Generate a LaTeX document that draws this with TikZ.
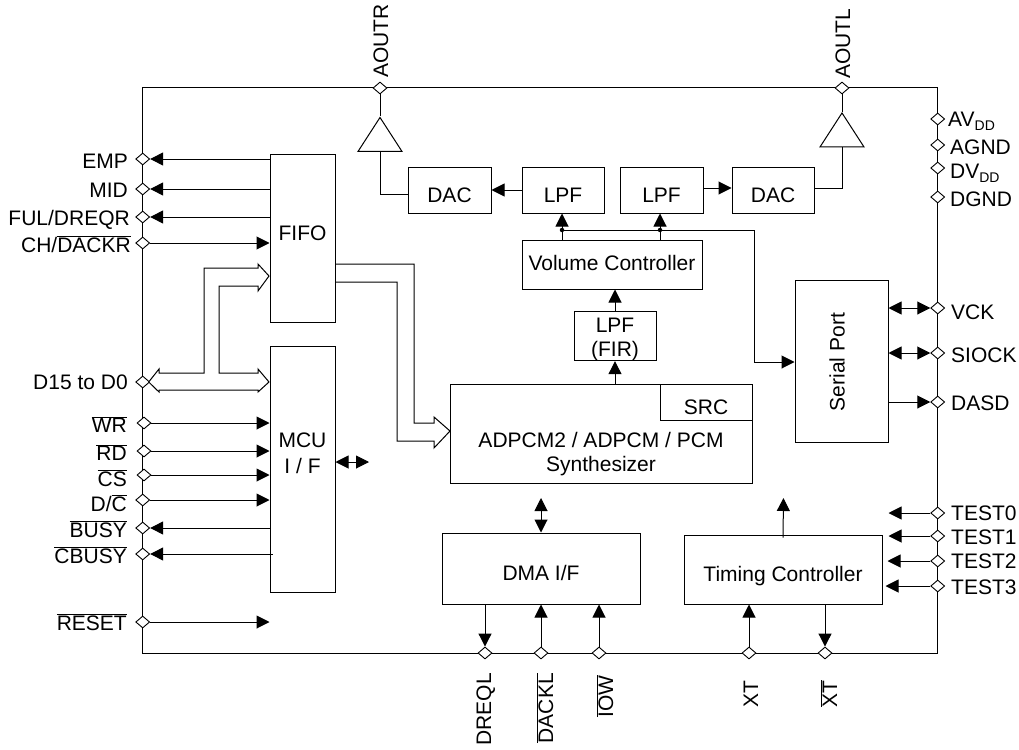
\documentclass[tikz,border=0pt]{standalone}
\usepackage{fontspec}
\setmainfont{Liberation Sans}
\usetikzlibrary{arrows.meta,shapes.geometric}
\newcommand{\barred}[1]{\ensuremath{\overline{\mbox{#1}}}}
\newcommand{\subdd}{\raisebox{-4pt}{\fontsize{14}{14}\selectfont DD}}
\tikzset{
  every node/.style={font=\fontsize{21}{24}\selectfont, inner sep=0pt},
  blockbox/.style={draw, line width=1pt, rectangle},
  lowtext/.style={text height=24pt, text depth=0pt},
  pinmark/.style={draw, fill=white, line width=0.9pt, diamond, aspect=1.2, minimum width=14pt, minimum height=12pt},
  ampbox/.style={draw, line width=1pt, isosceles triangle, isosceles triangle stretches, shape border rotate=90, minimum width=44pt, minimum height=34pt},
  leftlabel/.style={anchor=base east},
  rightlabel/.style={anchor=base west},
  upstart/.style={rotate=90, anchor=base west},
  upend/.style={rotate=90, anchor=base east},
  wire/.style={line width=1pt},
  sigline/.style={wire, -{Triangle[length=13pt,width=13pt]}},
  sigboth/.style={wire, {Triangle[length=13pt,width=13pt]}-{Triangle[length=13pt,width=13pt]}},
  busline/.style={line width=1pt, fill=white, line join=miter}
}
\begin{document}
\begin{tikzpicture}[x=1pt,y=-1pt]
  \useasboundingbox (0,0) rectangle (1019,749);

  % Chip outline
  \node[blockbox, minimum width=795pt, minimum height=565pt] (chip) at (540.3,370.5) {};

  % Blocks
  \node[blockbox, minimum width=65pt, minimum height=168pt, text height=15pt, text depth=11pt] (fifo) at (302.5,238) {FIFO};
  \node[blockbox, minimum width=65pt, minimum height=246pt] (mcu) at (302.5,469) {};
  \node[align=center] (mcutext) at (302.5,453) {MCU\\[2pt]I / F};
  \node[blockbox, lowtext, minimum width=83pt, minimum height=46pt] (dacL) at (449.5,190) {DAC};
  \node[blockbox, lowtext, minimum width=82pt, minimum height=46pt] (lpfL) at (563,190) {LPF};
  \node[blockbox, lowtext, minimum width=83pt, minimum height=46pt] (lpfR) at (661.5,190) {LPF};
  \node[blockbox, lowtext, minimum width=82pt, minimum height=46pt] (dacR) at (773,190) {DAC};
  \node[blockbox, text height=14pt, text depth=2pt, minimum width=180pt, minimum height=49pt] (volume) at (612,264.5) {Volume Controller};
  \node[blockbox, align=center, minimum width=82pt, minimum height=48pt] (lpfFir) at (615,336) {\rule{0pt}{21pt}LPF\\(FIR)};
  \node[blockbox, minimum width=302pt, minimum height=99pt] (synth) at (601,433.5) {};
  \node[align=center] (synthtext) at (601,454) {ADPCM2 / ADPCM / PCM\\Synthesizer};
  \node[blockbox, lowtext, minimum width=92pt, minimum height=36pt] (src) at (706,402) {SRC};
  \node[blockbox, minimum width=93pt, minimum height=162pt] (serial) at (841.5,361) {};
  \node[rotate=90] (serialtext) at (837,362) {Serial Port};
  \node[blockbox, lowtext, minimum width=198pt, minimum height=71pt] (dma) at (541,568.5) {DMA I/F};
  \node[blockbox, lowtext, minimum width=198pt, minimum height=69pt] (timing) at (783,569.5) {Timing Controller};

  % Output amplifiers
  \node[ampbox] (ampL) at (380,139.5) {};
  \node[ampbox] (ampR) at (842,135) {};

  % Pins
  \node[pinmark] (aoutr) at (380,88) {};
  \node[pinmark] (aoutl) at (842,88) {};
  \node[pinmark] (emp) at (142.7,159) {};
  \node[pinmark] (mid) at (142.7,189) {};
  \node[pinmark] (ful) at (142.7,217) {};
  \node[pinmark] (ch) at (142.7,243) {};
  \node[pinmark] (data) at (142.7,382) {};
  \node[pinmark] (wr) at (144,423) {};
  \node[pinmark] (rd) at (144,451) {};
  \node[pinmark] (cs) at (144,475) {};
  \node[pinmark] (dc) at (142.7,500) {};
  \node[pinmark] (busy) at (142.7,528) {};
  \node[pinmark] (cbusy) at (142.7,554) {};
  \node[pinmark] (reset) at (142.7,622) {};
  \node[pinmark] (avdd) at (937.7,119) {};
  \node[pinmark] (agnd) at (937.7,145) {};
  \node[pinmark] (dvdd) at (937.7,168) {};
  \node[pinmark] (dgnd) at (937.7,197) {};
  \node[pinmark] (vck) at (937.7,308) {};
  \node[pinmark] (siock) at (937.7,353) {};
  \node[pinmark] (dasd) at (937.7,402) {};
  \node[pinmark] (test0) at (937.7,513) {};
  \node[pinmark] (test1) at (937.7,536) {};
  \node[pinmark] (test2) at (937.7,561) {};
  \node[pinmark] (test3) at (937.7,586) {};
  \node[pinmark] (dreql) at (485,653) {};
  \node[pinmark] (dackl) at (541,653) {};
  \node[pinmark] (iow) at (599,653) {};
  \node[pinmark] (xt) at (749,653) {};
  \node[pinmark] (xtbar) at (825,653) {};

  % Pin labels
  \node[upstart] (aoutrlabel) at (388,78) {AOUTR};
  \node[upstart] (aoutllabel) at (850,79) {AOUTL};
  \node[leftlabel] (emplabel) at (128,168) {EMP};
  \node[leftlabel] (midlabel) at (128,197) {MID};
  \node[leftlabel] (fullabel) at (130,225) {FUL/DREQR};
  \node[leftlabel] (chlabel) at (131,252.7) {CH/\barred{DACKR}};
  \node[leftlabel] (datalabel) at (128,389) {D15 to D0};
  \node[leftlabel] (wrlabel) at (127,432.7) {\barred{WR}};
  \node[leftlabel] (rdlabel) at (127,460.7) {\barred{RD}};
  \node[leftlabel] (cslabel) at (127,486.7) {\barred{CS}};
  \node[leftlabel] (dclabel) at (127,511) {D/\barred{C}};
  \node[leftlabel] (busylabel) at (127,537) {\barred{BUSY}};
  \node[leftlabel] (cbusylabel) at (127,563.7) {\barred{CBUSY}};
  \node[leftlabel] (resetlabel) at (127,630) {\barred{RESET}};
  \node[rightlabel] (avddlabel) at (948,126) {AV\subdd};
  \node[rightlabel] (agndlabel) at (950,154) {AGND};
  \node[rightlabel] (dvddlabel) at (950,178) {DV\subdd};
  \node[rightlabel] (dgndlabel) at (950,206) {DGND};
  \node[rightlabel] (vcklabel) at (951,319) {VCK};
  \node[rightlabel] (siocklabel) at (951,362.7) {SIOCK};
  \node[rightlabel] (dasdlabel) at (951,410.7) {DASD};
  \node[rightlabel] (test0label) at (951,520.7) {TEST0};
  \node[rightlabel] (test1label) at (951,544) {TEST1};
  \node[rightlabel] (test2label) at (951,568) {TEST2};
  \node[rightlabel] (test3label) at (951,594) {TEST3};
  \node[upend] (dreqllabel) at (491,673) {DREQL};
  \node[upend] (dackllabel) at (553,673) {\barred{DACKL}};
  \node[upend] (iowlabel) at (613,675) {\barred{IOW}};
  \node[upend] (xtlabel) at (758,680) {XT};
  \node[upend] (xtbarlabel) at (837,680) {\barred{XT}};

  % Analog output path
  \draw[wire] (aoutr) -- (ampL.apex);
  \draw[wire] (aoutl) -- (ampR.apex);
  \draw[wire] (ampL.lower side) |- ([yshift=-4pt]dacL.west);
  \draw[wire] (ampR.lower side) |- ([yshift=2pt]dacR.east);
  \draw[sigline] (lpfL.west) -- (dacL.east);
  \draw[sigline] ([yshift=2pt]lpfR.east) -- ([yshift=2pt]dacR.west);

  % Volume and serial feed
  \node[circle, fill=black, minimum size=4.5pt] (dotL) at (562,230) {};
  \node[circle, fill=black, minimum size=4.5pt] (dotR) at (660,230) {};
  \coordinate (serialturn) at (754,362);
  \draw[sigline] (volume.north -| dotL) -- (lpfL.south -| dotL);
  \draw[sigline] (volume.north -| dotR) -- (lpfR.south -| dotR);
  \draw[wire] (dotL) -- (dotR);
  \draw[wire] (dotR) -| (serialturn);
  \draw[sigline] (serialturn) -- (serial.west |- serialturn);
  \draw[sigline] (lpfFir.north) -- (volume.south -| lpfFir.north);
  \draw[sigline] (synth.north -| lpfFir.south) -- (lpfFir.south);

  % FIFO and MCU signals
  \draw[sigline] (fifo.west |- emp) -- (emp);
  \draw[sigline] (fifo.west |- mid) -- (mid);
  \draw[sigline] (fifo.west |- ful) -- (ful);
  \draw[sigline] (ch) -- (fifo.west |- ch);
  \draw[sigline] (wr) -- (mcu.west |- wr);
  \draw[sigline] (rd) -- (mcu.west |- rd);
  \draw[sigline] (cs) -- (mcu.west |- cs);
  \draw[sigline] (dc) -- (mcu.west |- dc);
  \draw[sigline] (mcu.west |- busy) -- (busy);
  \draw[sigline] ([xshift=3pt]mcu.west |- cbusy) -- (cbusy);
  \draw[sigline] (reset) -- (mcu.west |- reset);
  \coordinate (mcutip) at (369,462);
  \draw[sigboth] (mcu.east |- mcutip) -- (mcutip);

  % Hollow buses
  \draw[busline] (148.7,382) -- (159,369) -- (159,373) -- (204,373) -- (204,268) -- (258,268) -- (258,264)
    -- (269,276) -- (258,291) -- (258,286) -- (219,286) -- (219,373) -- (258,373) -- (258,369)
    -- (269,382) -- (258,392) -- (258,390) -- (159,390) -- (159,392) -- cycle;
  \draw[busline, fill=none] (335,264) -- (414,264) -- (414,423) -- (434,423) -- (434,417)
    -- (450,431) -- (434,448) -- (434,441) -- (397,441) -- (397,282) -- (335,282);

  % Serial port and test pins
  \draw[sigboth] (serial.east |- vck) -- (vck);
  \draw[sigboth] (serial.east |- siock) -- (siock);
  \draw[sigline] (serial.east |- dasd) -- (dasd);
  \draw[sigline] (test0) -- (serial.east |- test0);
  \draw[sigline] (test1) -- (serial.east |- test1);
  \draw[sigline] (test2) -- ([xshift=-1pt]serial.east |- test2);
  \draw[sigline] (test3) -- ([xshift=-3pt]serial.east |- test3);

  % DMA and timing
  \coordinate (dmatip) at (541,498);
  \coordinate (timingtip) at (783.5,498);
  \draw[sigboth] (dma.north) -- (dmatip);
  \draw[sigline] ([yshift=-3pt]timing.north) -- (timingtip);
  \draw[sigline] (dma.south -| dreql) -- (dreql);
  \draw[sigline] (dackl) -- (dma.south -| dackl);
  \draw[sigline] (iow) -- (dma.south -| iow);
  \draw[sigline] (xt) -- (timing.south -| xt);
  \draw[sigline] (timing.south -| xtbar) -- (xtbar);
\end{tikzpicture}
\end{document}
